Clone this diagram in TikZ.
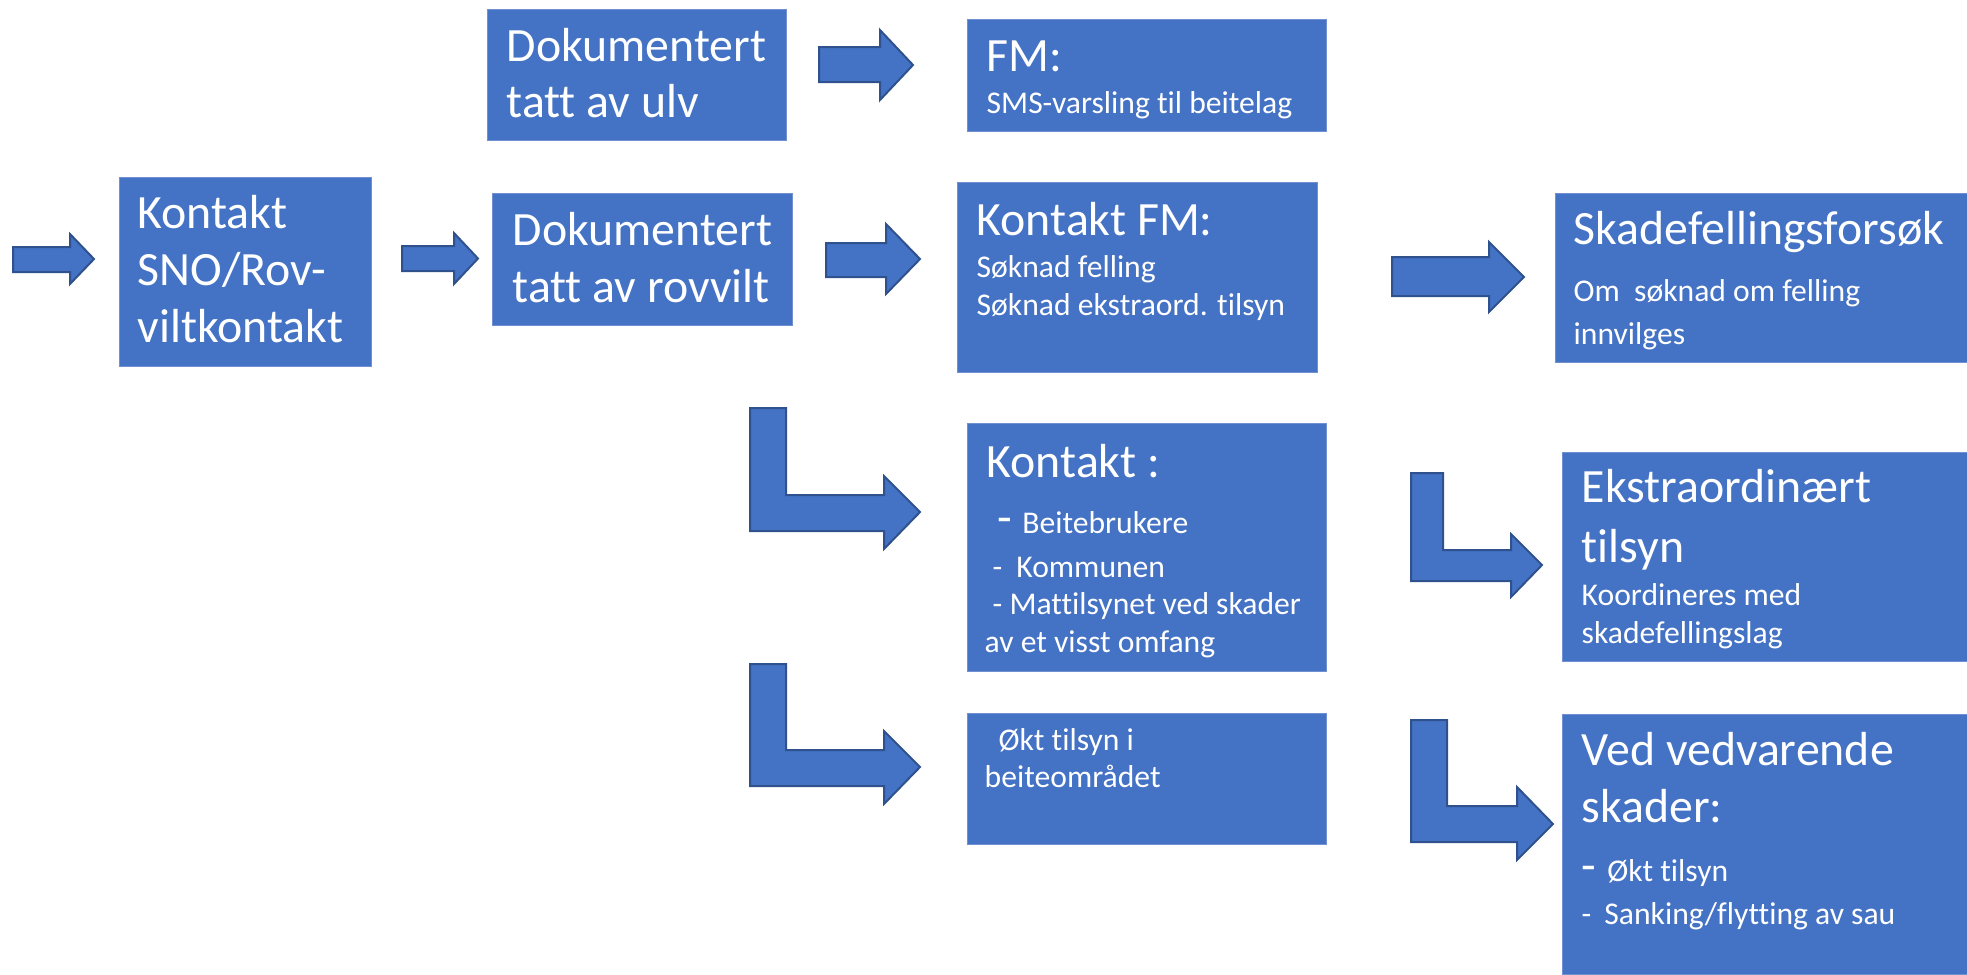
\documentclass[tikz,border=0pt]{standalone}
\usepackage{fontspec}
\setmainfont[Ligatures=NoCommon]{Carlito}
\usepackage{tikz}

\definecolor{boxblue}{HTML}{4472C4}
\definecolor{boxedge}{HTML}{7090D2}
\definecolor{arrowedge}{HTML}{2F528F}

\tikzset{
  box/.style={draw=boxedge, line width=0.1mm, fill=boxblue, inner sep=0pt, outer sep=0pt, anchor=north west},
  bigtxt/.style={text=white, inner sep=0pt, anchor=base west, align=left, font=\fontsize{13.6pt}{16.2pt}\selectfont},
  smalltxt/.style={text=white, inner sep=0pt, anchor=base west, align=left, font=\fontsize{9pt}{10.8pt}\selectfont},
  blockarrow/.style={draw=arrowedge, line width=0.2mm, fill=boxblue, line join=miter}
}

\begin{document}
\begin{tikzpicture}[x=0.1mm, y=-0.1mm]
\useasboundingbox (0,0) rectangle (1967,974);
% boxes
\node[box, minimum width=25.2mm, minimum height=18.9mm] (sno) at (119,177) {};
\node[box, minimum width=29.9mm, minimum height=13.1mm] (ulv) at (487,9) {};
\node[box, minimum width=30.0mm, minimum height=13.2mm] (rovvilt) at (492,193) {};
\node[box, minimum width=35.9mm, minimum height=11.2mm] (fm) at (967,19) {};
\node[box, minimum width=36.0mm, minimum height=19.0mm] (kfm) at (957,182) {};
\node[box, minimum width=41.2mm, minimum height=16.9mm] (skade) at (1555,193) {};
\node[box, minimum width=35.9mm, minimum height=24.8mm] (kontakt) at (967,423) {};
\node[box, minimum width=35.9mm, minimum height=13.1mm] (okt) at (967,713) {};
\node[box, minimum width=40.5mm, minimum height=20.9mm] (ekstra) at (1562,452) {};
\node[box, minimum width=40.5mm, minimum height=26.0mm] (ved) at (1562,714) {};
% texts (anchored at the baseline of the last line)
\node[bigtxt] (snotxt) at ([shift={(18,165)}]sno.north west) {Kontakt\\SNO/Rov-\\viltkontakt};
\node[bigtxt, font=\fontsize{13.6pt}{15.9pt}\selectfont] (ulvtxt) at ([shift={(19,108)}]ulv.north west) {Dokumentert\\tatt av ulv};
\node[bigtxt] (rovvilttxt) at ([shift={(20,109)}]rovvilt.north west) {Dokumentert\\tatt av rovvilt};
\node[bigtxt] (fmtitle) at ([shift={(19,52)}]fm.north west) {FM:};
\node[smalltxt] (fmbody) at ([shift={(19,94)}]fm.north west) {SMS-varsling til beitelag};
\node[bigtxt] (kfmtitle) at ([shift={(19,53)}]kfm.north west) {Kontakt FM:};
\node[smalltxt] (kfmbody) at ([shift={(19,133)}]kfm.north west) {Søknad felling\\Søknad ekstraord. tilsyn};
\node[bigtxt] (skadetitle) at ([shift={(18,51)}]skade.north west) {Skadefellingsforsøk};
\node[smalltxt, font=\fontsize{9pt}{12pt}\selectfont] (skadebody) at ([shift={(18,151)}]skade.north west) {Om \ søknad om felling\\innvilges};
\node[bigtxt] (kontakttitle) at ([shift={(19,54)}]kontakt.north west) {Kontakt :};
\node[smalltxt, font=\fontsize{9pt}{10.6pt}\selectfont] (kontaktbody) at ([shift={(17,229)}]kontakt.north west)
  {\hspace*{1.3mm}{\fontsize{13.6pt}{13.6pt}\selectfont -}\hspace*{1mm}Beitebrukere\\[1.8pt]
   \hspace*{0.8mm}-\hspace*{1.4mm}Kommunen\\
   \hspace*{0.8mm}- Mattilsynet ved skader\\
   av et visst omfang};
\node[smalltxt, font=\fontsize{9pt}{10.4pt}\selectfont] (oktbody) at ([shift={(17,74)}]okt.north west) {\hspace*{1.4mm}Økt tilsyn i\\beiteområdet};
\node[bigtxt, font=\fontsize{13.6pt}{16.8pt}\selectfont] (ekstratitle) at ([shift={(19,110)}]ekstra.north west) {Ekstraordinært\\tilsyn};
\node[smalltxt] (ekstrabody) at ([shift={(19,191)}]ekstra.north west) {Koordineres med\\skadefellingslag};
\node[bigtxt] (vedtitle) at ([shift={(19,108)}]ved.north west) {Ved vedvarende\\skader:};
\node[smalltxt, font=\fontsize{9pt}{12pt}\selectfont] (vedbody) at ([shift={(19,210)}]ved.north west)
  {{\fontsize{13.6pt}{13.6pt}\selectfont -}\hspace*{1.1mm}Økt tilsyn\\
   -\hspace*{1.3mm}Sanking/flytting av sau};
% straight block arrows
\foreach \xa/\xb/\xt/\ya/\yb/\ha/\hb in {13/70/94/247/272/234/284, 402/454/478/246/271/233/284,
    819/880/913/47/82/30/100, 826/886/920/243/277/224/294, 1392/1489/1524/257/296/242/312}
  \draw[blockarrow] (\xa,\ya) -- (\xb,\ya) -- (\xb,\ha) -- (\xt,{(\ha+\hb)/2}) -- (\xb,\hb) -- (\xb,\yb) -- (\xa,\yb) -- cycle;
% bent block arrows
\draw[blockarrow] (750,408) -- (786,408) -- (786,495) -- (884,495) -- (884,476) -- (920,512) -- (884,549) -- (884,531) -- (750,531) -- cycle;
\draw[blockarrow] (750,664) -- (786,664) -- (786,750) -- (884,750) -- (884,731) -- (920,767) -- (884,804) -- (884,786) -- (750,786) -- cycle;
\draw[blockarrow] (1411,473) -- (1443,473) -- (1443,550) -- (1511,550) -- (1511,534) -- (1542,565) -- (1511,597) -- (1511,581) -- (1411,581) -- cycle;
\draw[blockarrow] (1411,720) -- (1447,720) -- (1447,806) -- (1517,806) -- (1517,787) -- (1553,824) -- (1517,860) -- (1517,842) -- (1411,842) -- cycle;
\end{tikzpicture}
\end{document}
